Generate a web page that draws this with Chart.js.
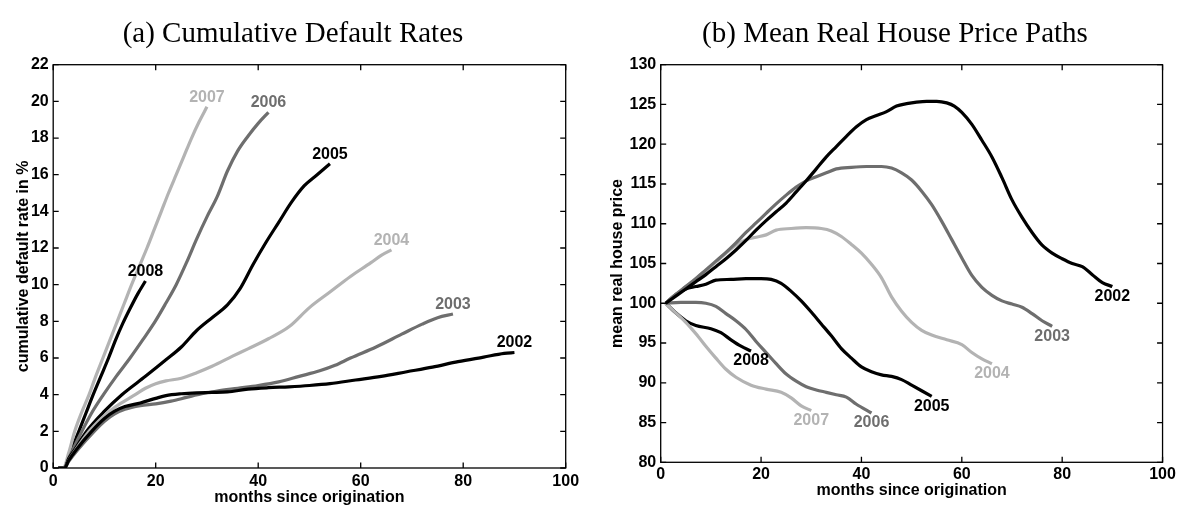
<!DOCTYPE html>
<html>
<head>
<meta charset="utf-8">
<script src="https://cdn.jsdelivr.net/npm/chart.js@4.4.1/dist/chart.umd.min.js"></script>
<style>
  html, body { margin: 0; padding: 0; background: #fff; }
  #wrap { position: relative; width: 1179px; height: 505px; overflow: hidden; }
  #c1, #c2 { position: absolute; top: 0; }
  #c1 { left: 0; }
  #c2 { left: 590px; }
</style>
</head>
<body>
<div id="wrap">
  <canvas id="c1" width="590" height="505"></canvas>
  <canvas id="c2" width="589" height="505"></canvas>
</div>
<script>
// ---------- Cohorts ----------
const cohorts = ['2002', '2003', '2004', '2005', '2006', '2007', '2008'];

// ---------- (a) cumulative default rate in %, by months since origination ----------
const cdrMonths2002 = [1, 2.2, 3, 4.5, 7.5, 10, 12, 14, 17, 20, 22, 25, 28, 31, 34, 38, 42, 46, 50, 54, 59, 64, 69, 74, 79, 84, 88, 90];
const cdr2002       = [0, 0, 0.4, 1, 2, 2.7, 3.1, 3.35, 3.55, 3.8, 3.95, 4.05, 4.1, 4.12, 4.15, 4.3, 4.38, 4.43, 4.5, 4.6, 4.8, 5.0, 5.25, 5.5, 5.8, 6.05, 6.25, 6.3];
const cdrMonths2003 = [1, 2.2, 3, 4.8, 8, 10, 12, 14, 17, 20, 23, 26, 29, 32, 36, 40, 44, 48, 52, 55, 58, 63, 68, 72, 75, 78];
const cdr2003       = [0, 0, 0.35, 1, 2, 2.55, 2.95, 3.2, 3.4, 3.5, 3.65, 3.85, 4.05, 4.2, 4.35, 4.5, 4.7, 5.0, 5.3, 5.6, 6.0, 6.6, 7.3, 7.85, 8.2, 8.4];
const cdrMonths2004 = [1, 2.2, 3, 4.4, 7, 9, 11, 13, 16, 18, 20, 22, 25, 28, 31, 35, 38, 42, 46, 50, 54, 58, 62, 64, 66];
const cdr2004       = [0, 0, 0.4, 1, 2, 2.6, 3.1, 3.5, 4.0, 4.35, 4.6, 4.75, 4.9, 5.2, 5.55, 6.1, 6.5, 7.05, 7.7, 8.75, 9.6, 10.45, 11.2, 11.6, 11.9];
const cdrMonths2005 = [1, 2.2, 3, 4.2, 6.5, 10, 13.4, 18, 22, 25, 28, 31, 34, 36.5, 39, 41.5, 44, 46.5, 49, 51.5, 54];
const cdr2005       = [0, 0, 0.5, 1, 2, 3.1, 4, 5, 5.9, 6.6, 7.5, 8.2, 8.9, 9.8, 11.1, 12.3, 13.4, 14.5, 15.4, 16.0, 16.6];
const cdrMonths2006 = [1, 2.2, 3, 4, 5.6, 7.5, 9.8, 12.3, 15, 17.5, 19.9, 22, 24, 26, 28, 30, 32, 34, 36, 38, 40, 42];
const cdr2006       = [0, 0, 0.5, 1.1, 2, 3, 4, 5, 6, 7, 8, 9, 10, 11.2, 12.5, 13.7, 14.8, 16.2, 17.3, 18.1, 18.8, 19.4];
const cdrMonths2007 = [1, 2, 3, 4.2, 5.5, 7, 8.3, 9.7, 11.1, 12.5, 13.9, 15.3, 16.8, 18.3, 19.7, 21.1, 22.5, 24, 25.5, 27, 28.5, 30];
const cdr2007       = [0, 0, 0.8, 2, 3, 4, 5, 6, 7, 8, 9, 10, 11, 12, 13, 14, 15, 16, 17, 18, 18.9, 19.7];
const cdrMonths2008 = [1, 2.2, 3, 4, 5, 6.4, 7.8, 9.3, 10.8, 12.2, 13.6, 15, 16.5, 18];
const cdr2008       = [0, 0, 0.6, 1.3, 2, 3, 4, 5, 6, 7, 7.9, 8.7, 9.5, 10.2];

// ---------- (b) mean real house price index (origination = 100) ----------
const hpMonths2002 = [1, 3, 5, 7, 9, 11, 13, 15, 17, 19, 21, 23, 25, 27, 29, 31, 33, 35, 37, 39, 41, 43, 45, 47, 49, 51, 53, 55, 57, 58.5, 60, 62, 64, 66, 68, 70, 72, 74, 76, 78, 80, 82, 84, 86, 88, 90];
const hp2002       = [100, 100.9, 101.8, 102.7, 103.6, 104.6, 105.6, 106.7, 107.9, 109.2, 110.4, 111.5, 112.6, 114.0, 115.4, 116.9, 118.4, 119.7, 121.0, 122.2, 123.1, 123.6, 124.1, 124.8, 125.1, 125.3, 125.4, 125.4, 125.2, 124.8, 124.0, 122.5, 120.5, 118.4, 115.8, 113.0, 110.8, 108.9, 107.3, 106.3, 105.6, 105.0, 104.6, 103.6, 102.6, 102.1];
const hpMonths2003 = [1, 3, 5, 7, 9, 11, 13, 15, 17, 19, 21, 23, 25, 27, 29, 31, 33, 35, 38, 41, 44, 46, 48, 50, 52, 54, 56, 58, 60, 62, 64, 66, 68, 70, 72, 74, 76, 78];
const hp2003       = [100, 101.1, 102.1, 103.1, 104.2, 105.3, 106.4, 107.6, 108.9, 110.1, 111.3, 112.5, 113.6, 114.6, 115.4, 115.9, 116.4, 116.9, 117.1, 117.2, 117.2, 117.0, 116.4, 115.5, 114.1, 112.4, 110.3, 108.0, 105.7, 103.5, 102.0, 101.0, 100.3, 99.9, 99.5, 98.7, 97.8, 97.1];
const hpMonths2004 = [1, 3, 5, 7, 9, 11, 13, 15, 17, 19, 21, 23, 26, 29, 32, 34, 36, 38, 40, 42, 44, 46, 48, 50, 52, 54, 57, 60, 62, 64, 66];
const hp2004       = [100, 101.1, 102.1, 103.1, 104.1, 105.2, 106.3, 107.3, 108.0, 108.3, 108.6, 109.2, 109.4, 109.5, 109.4, 109.1, 108.4, 107.4, 106.3, 104.9, 103.2, 100.8, 99.0, 97.6, 96.6, 96.0, 95.4, 94.8, 93.8, 93.0, 92.4];
const hpMonths2005 = [1, 3, 5, 7, 9, 11, 14, 17, 20, 22, 24, 26, 28, 30, 32, 34, 36, 38, 40, 42, 44, 46, 48, 50, 52, 54];
const hp2005       = [100, 101.1, 101.8, 102.1, 102.4, 102.9, 103.0, 103.1, 103.1, 103.0, 102.5, 101.5, 100.3, 98.9, 97.4, 95.9, 94.3, 93.1, 92.0, 91.4, 91.0, 90.8, 90.4, 89.7, 89.0, 88.3];
const hpMonths2006 = [1, 4, 7, 9, 11, 13, 15, 17, 19, 21, 23, 25, 27, 29, 31, 33, 35, 37, 39, 42];
const hp2006       = [100, 100.1, 100.1, 100, 99.6, 98.7, 97.8, 96.7, 95.2, 93.8, 92.4, 91.1, 90.2, 89.5, 89.1, 88.8, 88.5, 88.2, 87.3, 86.2];
const hpMonths2007 = [1, 3, 5, 6, 7.5, 9, 11, 13, 15, 18, 21, 24, 26, 28, 30];
const hp2007       = [100, 98.8, 97.6, 96.9, 95.8, 94.6, 93.1, 91.7, 90.7, 89.7, 89.2, 88.8, 88.1, 87.1, 86.5];
const hpMonths2008 = [1, 3, 5, 7, 10, 12, 14, 16, 18];
const hp2008       = [100, 98.8, 97.8, 97.2, 96.8, 96.3, 95.4, 94.6, 94.0];

// ---------- Tick settings ----------
const monthTicks = { min: 0, max: 100, step: 20 };
const cdrTicks   = { min: 0, max: 22, step: 2 };
const hpTicks    = { min: 80, max: 130, step: 5 };

// ---------- Styling ----------
const BLACK = '#000000', DARK = '#6e6e6e', LIGHT = '#b3b3b3';
const cohortColor = { '2002': BLACK, '2003': DARK, '2004': LIGHT, '2005': BLACK, '2006': DARK, '2007': LIGHT, '2008': BLACK };
const SANS = '"Liberation Sans", Arial, Helvetica, sans-serif';
const sansBold = (size) => ({ family: SANS, size: size, weight: 'bold' });

function series(months, values) {
  return months.map((m, i) => ({ x: m, y: values[i] }));
}

function buildDatasets(pairs) {
  return cohorts.map((c, i) => ({
    label: c,
    data: series(pairs[i][0], pairs[i][1]),
    borderColor: cohortColor[c],
    borderWidth: 3.2,
    pointRadius: 0,
    fill: false,
    cubicInterpolationMode: 'monotone',
    borderCapStyle: 'butt',
    borderJoinStyle: 'round'
  }));
}

// Frame around the plot area with inward tick marks on all four sides
const frameTicks = {
  id: 'frameTicks',
  afterDraw(chart) {
    const { ctx, chartArea: a, scales } = chart;
    const len = 5.5;
    ctx.save();
    ctx.strokeStyle = '#000';
    ctx.lineWidth = 1.3;
    ctx.beginPath();
    scales.x.ticks.forEach(t => {
      const px = scales.x.getPixelForValue(t.value);
      ctx.moveTo(px, a.bottom); ctx.lineTo(px, a.bottom - len);
      ctx.moveTo(px, a.top);    ctx.lineTo(px, a.top + len);
    });
    scales.y.ticks.forEach(t => {
      const py = scales.y.getPixelForValue(t.value);
      ctx.moveTo(a.left, py);  ctx.lineTo(a.left + len, py);
      ctx.moveTo(a.right, py); ctx.lineTo(a.right - len, py);
    });
    ctx.stroke();
    ctx.strokeRect(a.left, a.top, a.right - a.left, a.bottom - a.top);
    ctx.restore();
  }
};

// Cohort year written next to the last point of each curve
const endLabels = {
  id: 'endLabels',
  afterDatasetsDraw(chart, args, opts) {
    const { ctx } = chart;
    ctx.save();
    ctx.font = 'bold 16px ' + SANS;
    ctx.textAlign = 'center';
    ctx.textBaseline = 'middle';
    chart.data.datasets.forEach((ds, i) => {
      const pts = chart.getDatasetMeta(i).data;
      const last = pts[pts.length - 1];
      ctx.fillStyle = ds.borderColor;
      ctx.fillText(ds.label, last.x + opts.dx, last.y + opts.dy);
    });
    ctx.restore();
  }
};

// Panel caption above the plot
const caption = {
  id: 'caption',
  afterDraw(chart, args, opts) {
    const { ctx } = chart;
    ctx.save();
    ctx.font = '29px "Liberation Serif", "Times New Roman", serif';
    ctx.fillStyle = '#000';
    ctx.textAlign = 'center';
    ctx.textBaseline = 'alphabetic';
    ctx.fillText(opts.text, opts.x, opts.y);
    ctx.restore();
  }
};

function makeChart(canvasId, cfg) {
  return new Chart(document.getElementById(canvasId), {
    type: 'line',
    data: { datasets: buildDatasets(cfg.pairs) },
    plugins: [frameTicks, endLabels, caption],
    options: {
      responsive: false,
      animation: false,
      events: [],
      layout: { padding: cfg.padding },
      plugins: {
        legend: { display: false },
        tooltip: { enabled: false },
        title: { display: false },
        endLabels: { dx: 0, dy: cfg.labelDy },
        caption: cfg.caption
      },
      scales: {
        x: {
          type: 'linear',
          min: monthTicks.min, max: monthTicks.max,
          grid: { display: false, drawTicks: false },
          border: { display: false },
          ticks: { stepSize: monthTicks.step, autoSkip: false, maxRotation: 0, padding: cfg.xTickPad, color: '#000', font: sansBold(16) },
          title: { display: true, text: 'months since origination', color: '#000', font: { ...sansBold(16), lineHeight: 1 }, padding: { top: 0, bottom: cfg.xTitlePad } },
          afterFit(s) { s.height = cfg.xHeight; }
        },
        y: {
          type: 'linear',
          min: cfg.yTicks.min, max: cfg.yTicks.max,
          grid: { display: false, drawTicks: false },
          border: { display: false },
          ticks: { stepSize: cfg.yTicks.step, autoSkip: false, padding: 4.5, color: '#000', font: sansBold(16) },
          title: { display: true, text: cfg.yTitle, color: '#000', font: { ...sansBold(16), lineHeight: 1 }, padding: { top: cfg.yTitlePad, bottom: 0 } },
          afterFit(s) { s.width = cfg.yWidth; }
        }
      }
    }
  });
}

makeChart('c1', {
  pairs: [
    [cdrMonths2002, cdr2002], [cdrMonths2003, cdr2003], [cdrMonths2004, cdr2004], [cdrMonths2005, cdr2005],
    [cdrMonths2006, cdr2006], [cdrMonths2007, cdr2007], [cdrMonths2008, cdr2008]
  ],
  yTicks: cdrTicks,
  yTitle: 'cumulative default rate in %',
  padding: { left: 0, right: 24.3, top: 64.7, bottom: 0 },
  yWidth: 53.2, xHeight: 37,
  xTickPad: 4.1, xTitlePad: -0.5, yTitlePad: 16,
  labelDy: -9.5,
  caption: { text: '(a) Cumulative Default Rates', x: 293, y: 42 }
});

makeChart('c2', {
  pairs: [
    [hpMonths2002, hp2002], [hpMonths2003, hp2003], [hpMonths2004, hp2004], [hpMonths2005, hp2005],
    [hpMonths2006, hp2006], [hpMonths2007, hp2007], [hpMonths2008, hp2008]
  ],
  yTicks: hpTicks,
  yTitle: 'mean real house price',
  padding: { left: 0, right: 14.5, top: 64.7, bottom: 0 },
  yWidth: 70.7, xHeight: 42.7,
  xTickPad: 3.1, xTitlePad: 6.5, yTitlePad: 20,
  labelDy: 10,
  caption: { text: '(b) Mean Real House Price Paths', x: 305, y: 42 }
});
</script>
</body>
</html>
